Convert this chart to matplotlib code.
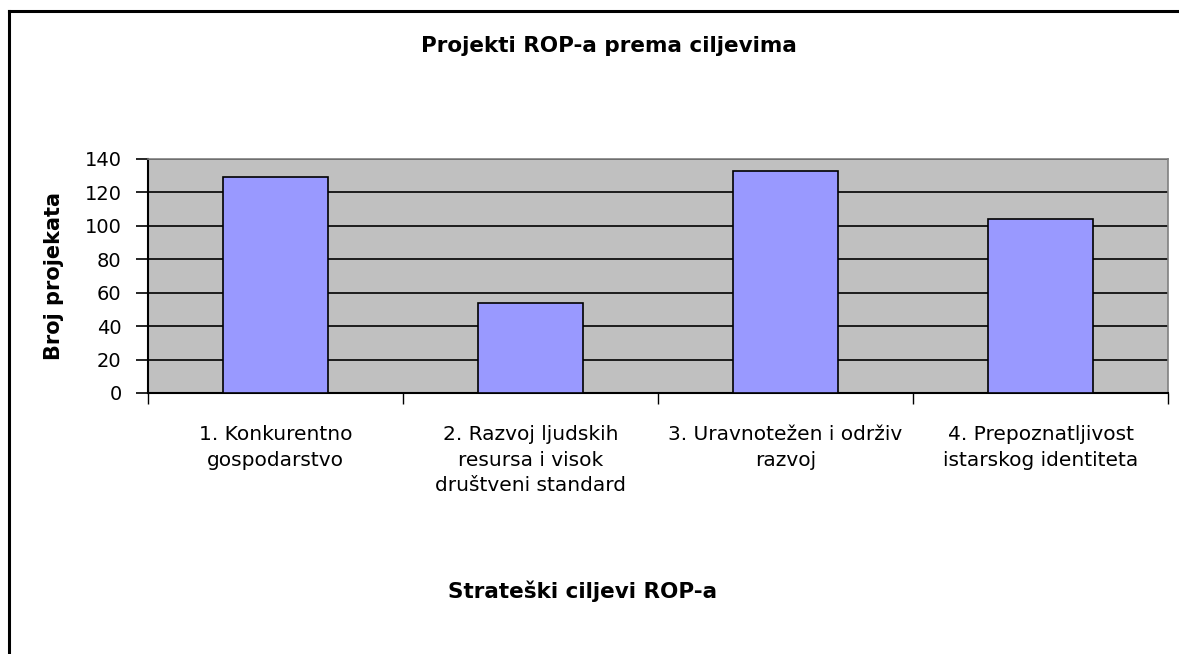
import matplotlib.pyplot as plt
from matplotlib.lines import Line2D
import numpy as np

categories = ["1. Konkurentno\ngospodarstvo",
              "2. Razvoj ljudskih\nresursa i visok\ndruštveni standard",
              "3. Uravnotežen i održiv\nrazvoj",
              "4. Prepoznatljivost\nistarskog identiteta"]
values = [129, 54, 133, 104]
yticks = [0, 20, 40, 60, 80, 100, 120, 140]

plt.rcParams['font.family'] = ['DejaVu Sans']

fig = plt.figure(figsize=(11.79, 6.54), dpi=100)
W, H = 1179, 654

# plot area in pixels: x 148..1168, y 159..393
ax = fig.add_axes([148 / W, 1 - 393 / H, (1168 - 148) / W, (393 - 159) / H])
ax.set_facecolor('#C0C0C0')

x = np.arange(len(values))
ax.bar(x, values, width=0.41, color='#9999FF', edgecolor='black', linewidth=1.2, zorder=3)

ax.set_xlim(-0.5, len(values) - 0.5)
ax.set_ylim(0, 140)
ax.set_yticks(yticks)
ax.yaxis.grid(True, color='black', linewidth=1.2, zorder=1)
ax.set_axisbelow(True)

# category ticks at the boundaries
ax.set_xticks(np.arange(len(values) + 1) - 0.5)
ax.set_xticklabels([])
ax.set_xticks(x, minor=True)
ax.set_xticklabels(categories, minor=True, fontsize=14.5, linespacing=1.45, va='top')
ax.tick_params(axis='x', which='minor', length=0, pad=23)
ax.tick_params(axis='x', which='major', length=8, width=1, direction='out', color='black')
ax.tick_params(axis='y', length=9, width=1.2, labelsize=14, pad=10)

for s in ['top', 'right']:
    ax.spines[s].set_color('#808080')
    ax.spines[s].set_linewidth(1.2)
ax.spines['left'].set_linewidth(1.5)
ax.spines['bottom'].set_linewidth(1.5)

ax.set_ylabel('Broj projekata', fontsize=15, fontweight='bold')
ax.yaxis.set_label_coords((64 - 148) / (1168 - 148), 0.5)

fig.text(609 / W, 1 - 46 / H, 'Projekti ROP-a prema ciljevima', ha='center', va='center',
         fontsize=15.5, fontweight='bold')
fig.text(583 / W, 1 - 591 / H, 'Strateški ciljevi ROP-a', ha='center', va='center',
         fontsize=15.5, fontweight='bold')

# outer border (left and top only visible)
fig.add_artist(Line2D([9.5 / W, 9.5 / W], [0, 1 - 10.5 / H], color='black', linewidth=2.2,
                      transform=fig.transFigure))
fig.add_artist(Line2D([9.5 / W, 1], [1 - 10.5 / H, 1 - 10.5 / H], color='black', linewidth=2.2,
                      transform=fig.transFigure))

fig.savefig('out.png', dpi=100)
